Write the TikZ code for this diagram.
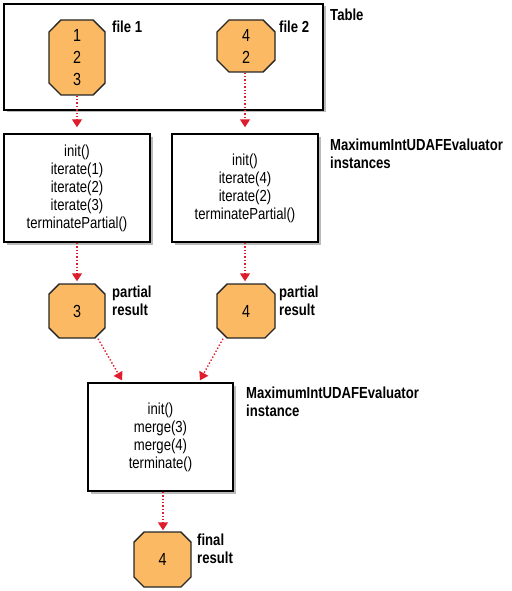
\documentclass[tikz,border=0pt]{standalone}
\usepackage{fontspec}
\setmainfont{Liberation Sans}[FakeStretch=0.82]
\usetikzlibrary{arrows.meta,shapes.misc,shadows,calc}
\definecolor{octfill}{RGB}{250,185,98}
\definecolor{arrred}{RGB}{222,30,45}
\tikzset{
  box/.style={draw=black,line width=1.4pt,fill=white,inner sep=0pt,
    drop shadow={shadow xshift=2.5pt,shadow yshift=-2.5pt,fill=black!60,opacity=0.45}},
  oct/.style={chamfered rectangle,chamfered rectangle xsep=8pt,chamfered rectangle ysep=8pt,
    draw=black!85,line width=1.4pt,fill=octfill,inner sep=0pt,align=center,
    font=\fontsize{17.5}{22}\selectfont},
  code/.style={align=center,font=\fontsize{16}{18}\selectfont},
  lbl/.style={anchor=west,align=left,inner sep=0pt,font=\bfseries\fontsize{16}{17.5}\selectfont},
  flow/.style={draw=arrred,line width=1.4pt,dotted,
    -{Triangle[width=10pt,length=8pt,fill=arrred]}},
}
\begin{document}
\begin{tikzpicture}[x=1pt,y=-1pt]
\useasboundingbox (0,0) rectangle (511,591);
% table frame
\node[box,minimum width=319pt,minimum height=106pt] (table) at (163.5,57) {};
\node[oct,minimum width=56pt,minimum height=75pt] (f1) at (77,57.5) {1\\2\\3};
\node[oct,minimum width=58pt,minimum height=52pt] (f2) at (246,46) {4\\2};
\node[lbl] (tlab) at (330,15) {Table};
\node[lbl] (f1lab) at (112,27) {file 1};
\node[lbl] (f2lab) at (279,27) {file 2};
% evaluator instances
\node[box,code,minimum width=146pt,minimum height=108pt] (b1) at (77,188)
  {init()\\iterate(1)\\iterate(2)\\iterate(3)\\terminatePartial()};
\node[box,code,minimum width=146pt,minimum height=108pt] (b2) at (245,188)
  {init()\\iterate(4)\\iterate(2)\\terminatePartial()};
\node[lbl] (ilab) at (330,154) {MaximumIntUDAFEvaluator\\instances};
% partial results
\node[oct,minimum width=56pt,minimum height=54pt] (p1) at (77,311) {3};
\node[oct,minimum width=58pt,minimum height=54pt] (p2) at (246,311) {4};
\node[lbl] (p1lab) at (112,301) {partial\\result};
\node[lbl] (p2lab) at (279,301) {partial\\result};
% merge instance
\node[box,code,minimum width=145pt,minimum height=108pt] (m) at (160.5,437)
  {init()\\merge(3)\\merge(4)\\terminate()};
\node[lbl] (mlab) at (246,402) {MaximumIntUDAFEvaluator\\instance};
% final
\node[oct,minimum width=57pt,minimum height=55pt] (fin) at (162.5,559.5) {4};
\node[lbl] (finlab) at (197,549) {final\\result};
% connectors
\draw[flow,shorten >=6pt] (f1.south) -- (f1.south |- b1.north);
\draw[flow,shorten >=6pt] (f2.south -| b2.north) -- (b2.north);
\draw[flow,shorten >=2pt] (b1.south) -- (b1.south |- p1.north);
\draw[flow,shorten >=2pt] (b2.south) -- (b2.south |- p2.north);
\draw[flow] ([xshift=21pt]p1.south) -- ([xshift=-38.5pt,yshift=2pt]m.north);
\draw[flow] ([xshift=-23pt]p2.south) -- ([xshift=39.5pt,yshift=2pt]m.north);
\draw[flow,shorten >=1pt] ([xshift=2.5pt]m.south) -- ([xshift=2.5pt]m.south |- fin.north);
\end{tikzpicture}
\end{document}
